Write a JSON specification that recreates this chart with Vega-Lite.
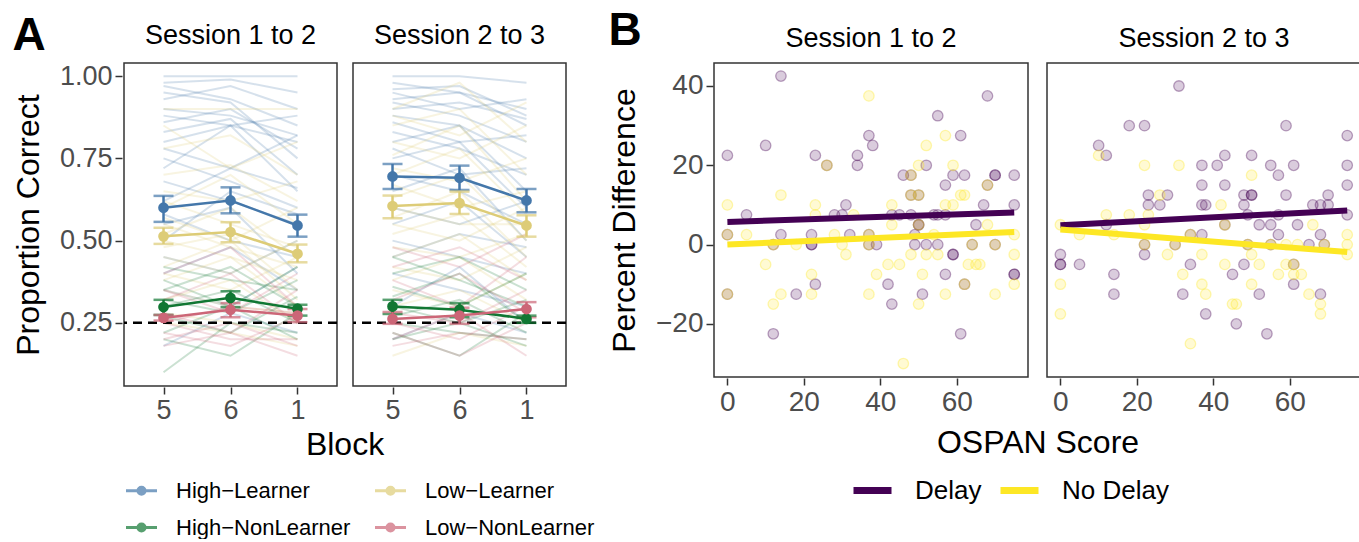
{
"$schema":"https://vega.github.io/schema/vega-lite/v6.json",
"padding":{"left":12,"top":8,"right":2,"bottom":0},
"spacing":13,
"resolve":{"scale":{"color":"independent","stroke":"independent","x":"independent","y":"independent"},"legend":{"color":"independent"}},
"hconcat":[
{
"title":{"text":"A","anchor":"start","fontSize":46,"fontWeight":"bold","offset":-38,"color":"black"},
"data":{"values":[
{"s":"Session 1 to 2","g":"High−Learner","id":"a1","5":1.00,"6":1.00,"1":1.00},
{"s":"Session 1 to 2","g":"High−Learner","id":"a2","5":0.98,"6":0.99,"1":0.95},
{"s":"Session 1 to 2","g":"High−Learner","id":"a3","5":0.97,"6":0.93,"1":0.85},
{"s":"Session 1 to 2","g":"High−Learner","id":"a4","5":0.95,"6":0.92,"1":0.75},
{"s":"Session 1 to 2","g":"High−Learner","id":"a5","5":0.93,"6":0.97,"1":0.90},
{"s":"Session 1 to 2","g":"High−Learner","id":"a6","5":0.90,"6":0.88,"1":0.82},
{"s":"Session 1 to 2","g":"High−Learner","id":"a7","5":0.88,"6":0.85,"1":0.88},
{"s":"Session 1 to 2","g":"High−Learner","id":"a8","5":0.86,"6":0.90,"1":0.78},
{"s":"Session 1 to 2","g":"High−Learner","id":"a9","5":0.83,"6":0.87,"1":0.70},
{"s":"Session 1 to 2","g":"High−Learner","id":"a10","5":0.80,"6":0.85,"1":0.80},
{"s":"Session 1 to 2","g":"High−Learner","id":"a11","5":0.78,"6":0.72,"1":0.82},
{"s":"Session 1 to 2","g":"High−Learner","id":"a12","5":0.75,"6":0.68,"1":0.60},
{"s":"Session 1 to 2","g":"High−Learner","id":"a13","5":0.72,"6":0.85,"1":0.65},
{"s":"Session 1 to 2","g":"High−Learner","id":"a14","5":0.68,"6":0.62,"1":0.55},
{"s":"Session 1 to 2","g":"High−Learner","id":"a15","5":0.62,"6":0.72,"1":0.66},
{"s":"Session 1 to 2","g":"High−Learner","id":"a16","5":0.58,"6":0.50,"1":0.45},
{"s":"Session 1 to 2","g":"High−Learner","id":"a17","5":0.55,"6":0.60,"1":0.40},
{"s":"Session 1 to 2","g":"High−Learner","id":"a18","5":0.50,"6":0.65,"1":0.58},
{"s":"Session 1 to 2","g":"High−Learner","id":"a19","5":0.45,"6":0.40,"1":0.50},
{"s":"Session 1 to 2","g":"High−Learner","id":"a20","5":0.40,"6":0.48,"1":0.35},
{"s":"Session 1 to 2","g":"High−Learner","id":"a21","5":0.35,"6":0.30,"1":0.42},
{"s":"Session 1 to 2","g":"High−Learner","id":"a22","5":0.18,"6":0.28,"1":0.22},
{"s":"Session 1 to 2","g":"Low−Learner","id":"b1","5":0.90,"6":0.90,"1":0.90},
{"s":"Session 1 to 2","g":"Low−Learner","id":"b2","5":0.85,"6":0.72,"1":0.80},
{"s":"Session 1 to 2","g":"Low−Learner","id":"b3","5":0.78,"6":0.82,"1":0.70},
{"s":"Session 1 to 2","g":"Low−Learner","id":"b4","5":0.70,"6":0.73,"1":0.62},
{"s":"Session 1 to 2","g":"Low−Learner","id":"b5","5":0.65,"6":0.62,"1":0.68},
{"s":"Session 1 to 2","g":"Low−Learner","id":"b6","5":0.62,"6":0.55,"1":0.48},
{"s":"Session 1 to 2","g":"Low−Learner","id":"b7","5":0.60,"6":0.70,"1":0.55},
{"s":"Session 1 to 2","g":"Low−Learner","id":"b8","5":0.57,"6":0.50,"1":0.60},
{"s":"Session 1 to 2","g":"Low−Learner","id":"b9","5":0.55,"6":0.48,"1":0.42},
{"s":"Session 1 to 2","g":"Low−Learner","id":"b10","5":0.52,"6":0.60,"1":0.45},
{"s":"Session 1 to 2","g":"Low−Learner","id":"b11","5":0.50,"6":0.45,"1":0.38},
{"s":"Session 1 to 2","g":"Low−Learner","id":"b12","5":0.48,"6":0.52,"1":0.35},
{"s":"Session 1 to 2","g":"Low−Learner","id":"b13","5":0.45,"6":0.40,"1":0.50},
{"s":"Session 1 to 2","g":"Low−Learner","id":"b14","5":0.42,"6":0.50,"1":0.32},
{"s":"Session 1 to 2","g":"Low−Learner","id":"b15","5":0.40,"6":0.35,"1":0.45},
{"s":"Session 1 to 2","g":"Low−Learner","id":"b16","5":0.38,"6":0.45,"1":0.30},
{"s":"Session 1 to 2","g":"Low−Learner","id":"b17","5":0.35,"6":0.30,"1":0.28},
{"s":"Session 1 to 2","g":"Low−Learner","id":"b18","5":0.32,"6":0.38,"1":0.25},
{"s":"Session 1 to 2","g":"Low−Learner","id":"b19","5":0.28,"6":0.25,"1":0.20},
{"s":"Session 1 to 2","g":"Low−Learner","id":"b20","5":0.25,"6":0.22,"1":0.18},
{"s":"Session 1 to 2","g":"High−NonLearner","id":"c1","5":0.42,"6":0.38,"1":0.35},
{"s":"Session 1 to 2","g":"High−NonLearner","id":"c2","5":0.38,"6":0.30,"1":0.42},
{"s":"Session 1 to 2","g":"High−NonLearner","id":"c3","5":0.35,"6":0.42,"1":0.30},
{"s":"Session 1 to 2","g":"High−NonLearner","id":"c4","5":0.32,"6":0.28,"1":0.38},
{"s":"Session 1 to 2","g":"High−NonLearner","id":"c5","5":0.30,"6":0.35,"1":0.25},
{"s":"Session 1 to 2","g":"High−NonLearner","id":"c6","5":0.27,"6":0.22,"1":0.33},
{"s":"Session 1 to 2","g":"High−NonLearner","id":"c7","5":0.22,"6":0.30,"1":0.20},
{"s":"Session 1 to 2","g":"High−NonLearner","id":"c8","5":0.20,"6":0.15,"1":0.28},
{"s":"Session 1 to 2","g":"High−NonLearner","id":"c9","5":0.10,"6":0.25,"1":0.22},
{"s":"Session 1 to 2","g":"Low−NonLearner","id":"d1","5":0.40,"6":0.48,"1":0.30},
{"s":"Session 1 to 2","g":"Low−NonLearner","id":"d2","5":0.35,"6":0.28,"1":0.40},
{"s":"Session 1 to 2","g":"Low−NonLearner","id":"d3","5":0.32,"6":0.40,"1":0.25},
{"s":"Session 1 to 2","g":"Low−NonLearner","id":"d4","5":0.28,"6":0.22,"1":0.35},
{"s":"Session 1 to 2","g":"Low−NonLearner","id":"d5","5":0.25,"6":0.30,"1":0.28},
{"s":"Session 1 to 2","g":"Low−NonLearner","id":"d6","5":0.22,"6":0.18,"1":0.27},
{"s":"Session 1 to 2","g":"Low−NonLearner","id":"d7","5":0.20,"6":0.25,"1":0.18},
{"s":"Session 1 to 2","g":"Low−NonLearner","id":"d8","5":0.18,"6":0.22,"1":0.15},
{"s":"Session 1 to 2","g":"Low−NonLearner","id":"d9","5":0.25,"6":0.20,"1":0.20},
{"s":"Session 2 to 3","g":"High−Learner","id":"a1","5":1.00,"6":1.00,"1":0.98},
{"s":"Session 2 to 3","g":"High−Learner","id":"a2","5":0.98,"6":0.95,"1":0.90},
{"s":"Session 2 to 3","g":"High−Learner","id":"a3","5":0.96,"6":0.97,"1":0.88},
{"s":"Session 2 to 3","g":"High−Learner","id":"a4","5":0.95,"6":0.90,"1":0.93},
{"s":"Session 2 to 3","g":"High−Learner","id":"a5","5":0.93,"6":0.95,"1":0.85},
{"s":"Session 2 to 3","g":"High−Learner","id":"a6","5":0.92,"6":0.88,"1":0.80},
{"s":"Session 2 to 3","g":"High−Learner","id":"a7","5":0.90,"6":0.92,"1":0.87},
{"s":"Session 2 to 3","g":"High−Learner","id":"a8","5":0.88,"6":0.85,"1":0.75},
{"s":"Session 2 to 3","g":"High−Learner","id":"a9","5":0.86,"6":0.80,"1":0.82},
{"s":"Session 2 to 3","g":"High−Learner","id":"a10","5":0.83,"6":0.78,"1":0.70},
{"s":"Session 2 to 3","g":"High−Learner","id":"a11","5":0.80,"6":0.85,"1":0.65},
{"s":"Session 2 to 3","g":"High−Learner","id":"a12","5":0.78,"6":0.70,"1":0.72},
{"s":"Session 2 to 3","g":"High−Learner","id":"a13","5":0.75,"6":0.80,"1":0.60},
{"s":"Session 2 to 3","g":"High−Learner","id":"a14","5":0.70,"6":0.65,"1":0.55},
{"s":"Session 2 to 3","g":"High−Learner","id":"a15","5":0.65,"6":0.72,"1":0.50},
{"s":"Session 2 to 3","g":"High−Learner","id":"a16","5":0.60,"6":0.55,"1":0.62},
{"s":"Session 2 to 3","g":"High−Learner","id":"a17","5":0.55,"6":0.62,"1":0.45},
{"s":"Session 2 to 3","g":"High−Learner","id":"a18","5":0.50,"6":0.45,"1":0.40},
{"s":"Session 2 to 3","g":"High−Learner","id":"a19","5":0.45,"6":0.52,"1":0.48},
{"s":"Session 2 to 3","g":"High−Learner","id":"a20","5":0.40,"6":0.35,"1":0.30},
{"s":"Session 2 to 3","g":"High−Learner","id":"a21","5":0.30,"6":0.42,"1":0.25},
{"s":"Session 2 to 3","g":"High−Learner","id":"a22","5":0.20,"6":0.28,"1":0.22},
{"s":"Session 2 to 3","g":"Low−Learner","id":"b1","5":0.90,"6":0.98,"1":0.80},
{"s":"Session 2 to 3","g":"Low−Learner","id":"b2","5":0.88,"6":0.82,"1":0.92},
{"s":"Session 2 to 3","g":"Low−Learner","id":"b3","5":0.85,"6":0.90,"1":0.70},
{"s":"Session 2 to 3","g":"Low−Learner","id":"b4","5":0.80,"6":0.75,"1":0.85},
{"s":"Session 2 to 3","g":"Low−Learner","id":"b5","5":0.76,"6":0.85,"1":0.62},
{"s":"Session 2 to 3","g":"Low−Learner","id":"b6","5":0.72,"6":0.68,"1":0.75},
{"s":"Session 2 to 3","g":"Low−Learner","id":"b7","5":0.70,"6":0.78,"1":0.58},
{"s":"Session 2 to 3","g":"Low−Learner","id":"b8","5":0.67,"6":0.60,"1":0.65},
{"s":"Session 2 to 3","g":"Low−Learner","id":"b9","5":0.63,"6":0.70,"1":0.50},
{"s":"Session 2 to 3","g":"Low−Learner","id":"b10","5":0.60,"6":0.55,"1":0.55},
{"s":"Session 2 to 3","g":"Low−Learner","id":"b11","5":0.57,"6":0.65,"1":0.45},
{"s":"Session 2 to 3","g":"Low−Learner","id":"b12","5":0.55,"6":0.50,"1":0.60},
{"s":"Session 2 to 3","g":"Low−Learner","id":"b13","5":0.52,"6":0.58,"1":0.42},
{"s":"Session 2 to 3","g":"Low−Learner","id":"b14","5":0.48,"6":0.45,"1":0.52},
{"s":"Session 2 to 3","g":"Low−Learner","id":"b15","5":0.45,"6":0.52,"1":0.38},
{"s":"Session 2 to 3","g":"Low−Learner","id":"b16","5":0.42,"6":0.38,"1":0.48},
{"s":"Session 2 to 3","g":"Low−Learner","id":"b17","5":0.38,"6":0.45,"1":0.32},
{"s":"Session 2 to 3","g":"Low−Learner","id":"b18","5":0.35,"6":0.30,"1":0.40},
{"s":"Session 2 to 3","g":"Low−Learner","id":"b19","5":0.30,"6":0.35,"1":0.25},
{"s":"Session 2 to 3","g":"Low−Learner","id":"b20","5":0.15,"6":0.22,"1":0.18},
{"s":"Session 2 to 3","g":"High−NonLearner","id":"c1","5":0.45,"6":0.38,"1":0.30},
{"s":"Session 2 to 3","g":"High−NonLearner","id":"c2","5":0.40,"6":0.45,"1":0.35},
{"s":"Session 2 to 3","g":"High−NonLearner","id":"c3","5":0.36,"6":0.30,"1":0.40},
{"s":"Session 2 to 3","g":"High−NonLearner","id":"c4","5":0.33,"6":0.40,"1":0.25},
{"s":"Session 2 to 3","g":"High−NonLearner","id":"c5","5":0.30,"6":0.25,"1":0.32},
{"s":"Session 2 to 3","g":"High−NonLearner","id":"c6","5":0.27,"6":0.32,"1":0.22},
{"s":"Session 2 to 3","g":"High−NonLearner","id":"c7","5":0.22,"6":0.15,"1":0.28},
{"s":"Session 2 to 3","g":"High−NonLearner","id":"c8","5":0.20,"6":0.25,"1":0.18},
{"s":"Session 2 to 3","g":"High−NonLearner","id":"c9","5":0.25,"6":0.22,"1":0.20},
{"s":"Session 2 to 3","g":"Low−NonLearner","id":"d1","5":0.48,"6":0.42,"1":0.52},
{"s":"Session 2 to 3","g":"Low−NonLearner","id":"d2","5":0.42,"6":0.48,"1":0.38},
{"s":"Session 2 to 3","g":"Low−NonLearner","id":"d3","5":0.38,"6":0.30,"1":0.45},
{"s":"Session 2 to 3","g":"Low−NonLearner","id":"d4","5":0.32,"6":0.40,"1":0.28},
{"s":"Session 2 to 3","g":"Low−NonLearner","id":"d5","5":0.28,"6":0.25,"1":0.35},
{"s":"Session 2 to 3","g":"Low−NonLearner","id":"d6","5":0.25,"6":0.20,"1":0.30},
{"s":"Session 2 to 3","g":"Low−NonLearner","id":"d7","5":0.22,"6":0.15,"1":0.25},
{"s":"Session 2 to 3","g":"Low−NonLearner","id":"d8","5":0.20,"6":0.28,"1":0.15},
{"s":"Session 2 to 3","g":"Low−NonLearner","id":"d9","5":0.18,"6":0.22,"1":0.20},
{"s":"Session 1 to 2","g":"High−Learner","b":"5","m":0.600,"lo":0.557,"hi":0.636},
{"s":"Session 1 to 2","g":"High−Learner","b":"6","m":0.622,"lo":0.583,"hi":0.662},
{"s":"Session 1 to 2","g":"High−Learner","b":"1","m":0.546,"lo":0.512,"hi":0.579},
{"s":"Session 1 to 2","g":"Low−Learner","b":"5","m":0.513,"lo":0.490,"hi":0.539},
{"s":"Session 1 to 2","g":"Low−Learner","b":"6","m":0.526,"lo":0.495,"hi":0.556},
{"s":"Session 1 to 2","g":"Low−Learner","b":"1","m":0.460,"lo":0.434,"hi":0.488},
{"s":"Session 1 to 2","g":"High−NonLearner","b":"5","m":0.298,"lo":0.274,"hi":0.320},
{"s":"Session 1 to 2","g":"High−NonLearner","b":"6","m":0.326,"lo":0.298,"hi":0.346},
{"s":"Session 1 to 2","g":"High−NonLearner","b":"1","m":0.293,"lo":0.272,"hi":0.305},
{"s":"Session 1 to 2","g":"Low−NonLearner","b":"5","m":0.265,"lo":0.257,"hi":0.274},
{"s":"Session 1 to 2","g":"Low−NonLearner","b":"6","m":0.290,"lo":0.267,"hi":0.310},
{"s":"Session 1 to 2","g":"Low−NonLearner","b":"1","m":0.272,"lo":0.252,"hi":0.292},
{"s":"Session 2 to 3","g":"High−Learner","b":"5","m":0.695,"lo":0.657,"hi":0.733},
{"s":"Session 2 to 3","g":"High−Learner","b":"6","m":0.691,"lo":0.654,"hi":0.728},
{"s":"Session 2 to 3","g":"High−Learner","b":"1","m":0.622,"lo":0.586,"hi":0.657},
{"s":"Session 2 to 3","g":"Low−Learner","b":"5","m":0.605,"lo":0.568,"hi":0.637},
{"s":"Session 2 to 3","g":"Low−Learner","b":"6","m":0.614,"lo":0.581,"hi":0.649},
{"s":"Session 2 to 3","g":"Low−Learner","b":"1","m":0.546,"lo":0.512,"hi":0.577},
{"s":"Session 2 to 3","g":"High−NonLearner","b":"5","m":0.300,"lo":0.277,"hi":0.320},
{"s":"Session 2 to 3","g":"High−NonLearner","b":"6","m":0.290,"lo":0.267,"hi":0.310},
{"s":"Session 2 to 3","g":"High−NonLearner","b":"1","m":0.262,"lo":0.250,"hi":0.272},
{"s":"Session 2 to 3","g":"Low−NonLearner","b":"5","m":0.262,"lo":0.247,"hi":0.283},
{"s":"Session 2 to 3","g":"Low−NonLearner","b":"6","m":0.272,"lo":0.247,"hi":0.296},
{"s":"Session 2 to 3","g":"Low−NonLearner","b":"1","m":0.292,"lo":0.267,"hi":0.313}
]},
"facet":{"column":{"field":"s","type":"nominal","header":{"title":"Block","titleOrient":"bottom","labelOrient":"top","titleFontSize":32,"titleFontWeight":"normal","titleColor":"black","titlePadding":-3,"labelFontSize":27,"labelColor":"black","labelPadding":12}}},
"spacing":12,
"spec":{
"width":213,"height":323,
"layer":[
{"transform":[{"filter":"isValid(datum.id)"},{"fold":["5","6","1"],"as":["b","v"]}],
 "mark":{"type":"line","strokeWidth":2,"strokeOpacity":0.22},
 "encoding":{
  "x":{"field":"b","type":"ordinal","scale":{"type":"point","domain":["5","6","1"],"padding":0.59},"axis":{"title":null,"labelAngle":0}},
  "y":{"field":"v","type":"quantitative","title":"Proportion Correct","scale":{"domain":[0.058,1.04],"nice":false,"zero":false},"axis":{"values":[0.25,0.5,0.75,1],"format":".2f","title":"Proportion Correct","titlePadding":14}},
  "color":{"field":"g","type":"nominal","scale":{"domain":["High−Learner","Low−Learner","High−NonLearner","Low−NonLearner"],"range":["#4477AA","#DDCC77","#117733","#CC6677"]},
    "legend":{"title":null,"orient":"bottom","direction":"horizontal","columns":2,"labelFontSize":22,"labelColor":"black","labelLimit":400,"symbolType":"M-1,0L1,0M-0.22,0A0.22,0.22,0,1,0,0.22,0A0.22,0.22,0,1,0,-0.22,0M-0.08,0A0.08,0.08,0,1,0,0.08,0A0.08,0.08,0,1,0,-0.08,0","symbolSize":961,"symbolStrokeWidth":3.2,"symbolOpacity":1,"columnPadding":17,"rowPadding":8,"labelOffset":17,"offset":12}},
  "detail":{"field":"id","type":"nominal"}}},
{"transform":[{"filter":"isValid(datum.m)"},{"aggregate":[{"op":"count","as":"n"}],"groupby":["s"]}],
 "mark":{"type":"rule","strokeDash":[9,6],"strokeWidth":2.5,"color":"black"},
 "encoding":{"y":{"datum":0.25,"type":"quantitative","title":"Proportion Correct"}}},
{"transform":[{"filter":"isValid(datum.m)"}],
 "mark":{"type":"errorbar","ticks":{"size":20,"thickness":2.5},"thickness":2.5},
 "encoding":{"x":{"field":"b","type":"ordinal"},"y":{"field":"lo","type":"quantitative","title":"Proportion Correct"},"y2":{"field":"hi"},"color":{"field":"g","type":"nominal"}}},
{"transform":[{"filter":"isValid(datum.m)"}],
 "mark":{"type":"line","strokeWidth":2.5},
 "encoding":{"x":{"field":"b","type":"ordinal"},"y":{"field":"m","type":"quantitative","title":"Proportion Correct"},"color":{"field":"g","type":"nominal"}}},
{"transform":[{"filter":"isValid(datum.m)"}],
 "mark":{"type":"point","filled":true,"size":115,"opacity":1},
 "encoding":{"x":{"field":"b","type":"ordinal"},"y":{"field":"m","type":"quantitative","title":"Proportion Correct"},"color":{"field":"g","type":"nominal"}}}
]}
},
{
"title":{"text":"B","anchor":"start","fontSize":46,"fontWeight":"bold","offset":-30,"color":"black"},
"data":{"values":[
{"s":"Session 1 to 2","c":"Delay","x":14,"y":42.5},{"s":"Session 1 to 2","c":"Delay","x":37,"y":27.5},{"s":"Session 1 to 2","c":"Delay","x":38,"y":25},{"s":"Session 1 to 2","c":"Delay","x":0,"y":22.5},{"s":"Session 1 to 2","c":"Delay","x":10,"y":25},{"s":"Session 1 to 2","c":"Delay","x":23,"y":22.5},{"s":"Session 1 to 2","c":"Delay","x":26,"y":20},{"s":"Session 1 to 2","c":"Delay","x":34,"y":22.5},{"s":"Session 1 to 2","c":"Delay","x":34,"y":20},{"s":"Session 1 to 2","c":"Delay","x":5,"y":7.5},{"s":"Session 1 to 2","c":"Delay","x":31,"y":10},{"s":"Session 1 to 2","c":"Delay","x":28,"y":7.5},{"s":"Session 1 to 2","c":"Delay","x":30,"y":7.5},{"s":"Session 1 to 2","c":"Delay","x":0,"y":2.5},{"s":"Session 1 to 2","c":"Delay","x":12,"y":0},{"s":"Session 1 to 2","c":"Delay","x":14,"y":2.5},{"s":"Session 1 to 2","c":"Delay","x":22,"y":2.5},{"s":"Session 1 to 2","c":"Delay","x":22,"y":0},{"s":"Session 1 to 2","c":"Delay","x":22,"y":0},{"s":"Session 1 to 2","c":"Delay","x":32,"y":2.5},{"s":"Session 1 to 2","c":"Delay","x":37,"y":2.5},{"s":"Session 1 to 2","c":"Delay","x":37,"y":0},{"s":"Session 1 to 2","c":"Delay","x":23,"y":-10},{"s":"Session 1 to 2","c":"Delay","x":0,"y":-12.5},{"s":"Session 1 to 2","c":"Delay","x":18,"y":-12.5},{"s":"Session 1 to 2","c":"Delay","x":12,"y":-22.5},
{"s":"Session 1 to 2","c":"Delay","x":68,"y":37.5},{"s":"Session 1 to 2","c":"Delay","x":55,"y":32.5},{"s":"Session 1 to 2","c":"Delay","x":61,"y":27.5},{"s":"Session 1 to 2","c":"Delay","x":52,"y":20},{"s":"Session 1 to 2","c":"Delay","x":46,"y":17.5},{"s":"Session 1 to 2","c":"Delay","x":48,"y":17.5},{"s":"Session 1 to 2","c":"Delay","x":59,"y":17.5},{"s":"Session 1 to 2","c":"Delay","x":62,"y":17.5},{"s":"Session 1 to 2","c":"Delay","x":57,"y":15},{"s":"Session 1 to 2","c":"Delay","x":70,"y":17.5},{"s":"Session 1 to 2","c":"Delay","x":70,"y":17.5},{"s":"Session 1 to 2","c":"Delay","x":68,"y":15},{"s":"Session 1 to 2","c":"Delay","x":75,"y":17.5},{"s":"Session 1 to 2","c":"Delay","x":48,"y":12.5},{"s":"Session 1 to 2","c":"Delay","x":50,"y":12.5},{"s":"Session 1 to 2","c":"Delay","x":67,"y":10},{"s":"Session 1 to 2","c":"Delay","x":75,"y":10},{"s":"Session 1 to 2","c":"Delay","x":43,"y":7.5},{"s":"Session 1 to 2","c":"Delay","x":45,"y":7.5},{"s":"Session 1 to 2","c":"Delay","x":48,"y":7.5},{"s":"Session 1 to 2","c":"Delay","x":54,"y":7.5},{"s":"Session 1 to 2","c":"Delay","x":55,"y":7.5},{"s":"Session 1 to 2","c":"Delay","x":57,"y":7.5},{"s":"Session 1 to 2","c":"Delay","x":50,"y":5},{"s":"Session 1 to 2","c":"Delay","x":50,"y":5},{"s":"Session 1 to 2","c":"Delay","x":65,"y":5},{"s":"Session 1 to 2","c":"Delay","x":49,"y":2.5},{"s":"Session 1 to 2","c":"Delay","x":39,"y":0},{"s":"Session 1 to 2","c":"Delay","x":49,"y":0},{"s":"Session 1 to 2","c":"Delay","x":52,"y":0},{"s":"Session 1 to 2","c":"Delay","x":55,"y":0},{"s":"Session 1 to 2","c":"Delay","x":64,"y":0},{"s":"Session 1 to 2","c":"Delay","x":70,"y":0},{"s":"Session 1 to 2","c":"Delay","x":59,"y":-2.5},{"s":"Session 1 to 2","c":"Delay","x":59,"y":-2.5},{"s":"Session 1 to 2","c":"Delay","x":57,"y":-7.5},{"s":"Session 1 to 2","c":"Delay","x":75,"y":-7.5},{"s":"Session 1 to 2","c":"Delay","x":75,"y":-7.5},{"s":"Session 1 to 2","c":"Delay","x":42,"y":-10},{"s":"Session 1 to 2","c":"Delay","x":62,"y":-10},{"s":"Session 1 to 2","c":"Delay","x":51,"y":-12.5},{"s":"Session 1 to 2","c":"Delay","x":43,"y":-15},{"s":"Session 1 to 2","c":"Delay","x":61,"y":-22.5},
{"s":"Session 1 to 2","c":"No Delay","x":37,"y":37.5},{"s":"Session 1 to 2","c":"No Delay","x":26,"y":20},{"s":"Session 1 to 2","c":"No Delay","x":0,"y":10},{"s":"Session 1 to 2","c":"No Delay","x":14,"y":12.5},{"s":"Session 1 to 2","c":"No Delay","x":23,"y":10},{"s":"Session 1 to 2","c":"No Delay","x":23,"y":7.5},{"s":"Session 1 to 2","c":"No Delay","x":33,"y":7.5},{"s":"Session 1 to 2","c":"No Delay","x":0,"y":2.5},{"s":"Session 1 to 2","c":"No Delay","x":5,"y":2.5},{"s":"Session 1 to 2","c":"No Delay","x":12,"y":0},{"s":"Session 1 to 2","c":"No Delay","x":18,"y":0},{"s":"Session 1 to 2","c":"No Delay","x":28,"y":2.5},{"s":"Session 1 to 2","c":"No Delay","x":30,"y":0},{"s":"Session 1 to 2","c":"No Delay","x":31,"y":-2.5},{"s":"Session 1 to 2","c":"No Delay","x":37,"y":2.5},{"s":"Session 1 to 2","c":"No Delay","x":37,"y":0},{"s":"Session 1 to 2","c":"No Delay","x":10,"y":-5},{"s":"Session 1 to 2","c":"No Delay","x":22,"y":-7.5},{"s":"Session 1 to 2","c":"No Delay","x":39,"y":-7.5},{"s":"Session 1 to 2","c":"No Delay","x":0,"y":-12.5},{"s":"Session 1 to 2","c":"No Delay","x":14,"y":-12.5},{"s":"Session 1 to 2","c":"No Delay","x":22,"y":-12.5},{"s":"Session 1 to 2","c":"No Delay","x":12,"y":-15},{"s":"Session 1 to 2","c":"No Delay","x":37,"y":-12.5},
{"s":"Session 1 to 2","c":"No Delay","x":57,"y":27.5},{"s":"Session 1 to 2","c":"No Delay","x":52,"y":25},{"s":"Session 1 to 2","c":"No Delay","x":50,"y":20},{"s":"Session 1 to 2","c":"No Delay","x":48,"y":17.5},{"s":"Session 1 to 2","c":"No Delay","x":59,"y":20},{"s":"Session 1 to 2","c":"No Delay","x":68,"y":15},{"s":"Session 1 to 2","c":"No Delay","x":48,"y":12.5},{"s":"Session 1 to 2","c":"No Delay","x":50,"y":12.5},{"s":"Session 1 to 2","c":"No Delay","x":61,"y":12.5},{"s":"Session 1 to 2","c":"No Delay","x":62,"y":12.5},{"s":"Session 1 to 2","c":"No Delay","x":57,"y":10},{"s":"Session 1 to 2","c":"No Delay","x":59,"y":10},{"s":"Session 1 to 2","c":"No Delay","x":43,"y":10},{"s":"Session 1 to 2","c":"No Delay","x":43,"y":5},{"s":"Session 1 to 2","c":"No Delay","x":50,"y":5},{"s":"Session 1 to 2","c":"No Delay","x":68,"y":5},{"s":"Session 1 to 2","c":"No Delay","x":54,"y":2.5},{"s":"Session 1 to 2","c":"No Delay","x":75,"y":2.5},{"s":"Session 1 to 2","c":"No Delay","x":64,"y":0},{"s":"Session 1 to 2","c":"No Delay","x":70,"y":0},{"s":"Session 1 to 2","c":"No Delay","x":48,"y":-2.5},{"s":"Session 1 to 2","c":"No Delay","x":52,"y":-2.5},{"s":"Session 1 to 2","c":"No Delay","x":55,"y":-2.5},{"s":"Session 1 to 2","c":"No Delay","x":63,"y":-5},{"s":"Session 1 to 2","c":"No Delay","x":65,"y":-5},{"s":"Session 1 to 2","c":"No Delay","x":66,"y":-5},{"s":"Session 1 to 2","c":"No Delay","x":75,"y":-2.5},{"s":"Session 1 to 2","c":"No Delay","x":42,"y":-5},{"s":"Session 1 to 2","c":"No Delay","x":45,"y":-5},{"s":"Session 1 to 2","c":"No Delay","x":51,"y":-7.5},{"s":"Session 1 to 2","c":"No Delay","x":75,"y":-10},{"s":"Session 1 to 2","c":"No Delay","x":62,"y":-10},{"s":"Session 1 to 2","c":"No Delay","x":57,"y":-12.5},{"s":"Session 1 to 2","c":"No Delay","x":70,"y":-12.5},{"s":"Session 1 to 2","c":"No Delay","x":50,"y":-15},{"s":"Session 1 to 2","c":"No Delay","x":46,"y":-30},
{"s":"Session 2 to 3","c":"Delay","x":31,"y":40},{"s":"Session 2 to 3","c":"Delay","x":18,"y":30},{"s":"Session 2 to 3","c":"Delay","x":22,"y":30},{"s":"Session 2 to 3","c":"Delay","x":10,"y":25},{"s":"Session 2 to 3","c":"Delay","x":12,"y":22.5},{"s":"Session 2 to 3","c":"Delay","x":37,"y":20},{"s":"Session 2 to 3","c":"Delay","x":37,"y":15},{"s":"Session 2 to 3","c":"Delay","x":23,"y":12.5},{"s":"Session 2 to 3","c":"Delay","x":28,"y":12.5},{"s":"Session 2 to 3","c":"Delay","x":23,"y":10},{"s":"Session 2 to 3","c":"Delay","x":26,"y":10},{"s":"Session 2 to 3","c":"Delay","x":37,"y":10},{"s":"Session 2 to 3","c":"Delay","x":38,"y":10},{"s":"Session 2 to 3","c":"Delay","x":12,"y":5},{"s":"Session 2 to 3","c":"Delay","x":34,"y":2.5},{"s":"Session 2 to 3","c":"Delay","x":37,"y":2.5},{"s":"Session 2 to 3","c":"Delay","x":22,"y":0},{"s":"Session 2 to 3","c":"Delay","x":30,"y":0},{"s":"Session 2 to 3","c":"Delay","x":22,"y":-2.5},{"s":"Session 2 to 3","c":"Delay","x":0,"y":-2.5},{"s":"Session 2 to 3","c":"Delay","x":0,"y":-5},{"s":"Session 2 to 3","c":"Delay","x":0,"y":-5},{"s":"Session 2 to 3","c":"Delay","x":5,"y":-5},{"s":"Session 2 to 3","c":"Delay","x":34,"y":-5},{"s":"Session 2 to 3","c":"Delay","x":14,"y":-7.5},{"s":"Session 2 to 3","c":"Delay","x":14,"y":-12.5},{"s":"Session 2 to 3","c":"Delay","x":32,"y":-12.5},{"s":"Session 2 to 3","c":"Delay","x":38,"y":-17.5},
{"s":"Session 2 to 3","c":"Delay","x":59,"y":30},{"s":"Session 2 to 3","c":"Delay","x":75,"y":27.5},{"s":"Session 2 to 3","c":"Delay","x":43,"y":22.5},{"s":"Session 2 to 3","c":"Delay","x":50,"y":22.5},{"s":"Session 2 to 3","c":"Delay","x":41,"y":20},{"s":"Session 2 to 3","c":"Delay","x":55,"y":20},{"s":"Session 2 to 3","c":"Delay","x":61,"y":20},{"s":"Session 2 to 3","c":"Delay","x":75,"y":20},{"s":"Session 2 to 3","c":"Delay","x":57,"y":17.5},{"s":"Session 2 to 3","c":"Delay","x":43,"y":15},{"s":"Session 2 to 3","c":"Delay","x":75,"y":15},{"s":"Session 2 to 3","c":"Delay","x":48,"y":12.5},{"s":"Session 2 to 3","c":"Delay","x":50,"y":12.5},{"s":"Session 2 to 3","c":"Delay","x":50,"y":12.5},{"s":"Session 2 to 3","c":"Delay","x":59,"y":12.5},{"s":"Session 2 to 3","c":"Delay","x":70,"y":12.5},{"s":"Session 2 to 3","c":"Delay","x":48,"y":10},{"s":"Session 2 to 3","c":"Delay","x":66,"y":10},{"s":"Session 2 to 3","c":"Delay","x":68,"y":10},{"s":"Session 2 to 3","c":"Delay","x":70,"y":10},{"s":"Session 2 to 3","c":"Delay","x":75,"y":7.5},{"s":"Session 2 to 3","c":"Delay","x":49,"y":7.5},{"s":"Session 2 to 3","c":"Delay","x":57,"y":7.5},{"s":"Session 2 to 3","c":"Delay","x":43,"y":5},{"s":"Session 2 to 3","c":"Delay","x":52,"y":5},{"s":"Session 2 to 3","c":"Delay","x":55,"y":5},{"s":"Session 2 to 3","c":"Delay","x":62,"y":5},{"s":"Session 2 to 3","c":"Delay","x":57,"y":2.5},{"s":"Session 2 to 3","c":"Delay","x":68,"y":2.5},{"s":"Session 2 to 3","c":"Delay","x":49,"y":0},{"s":"Session 2 to 3","c":"Delay","x":55,"y":0},{"s":"Session 2 to 3","c":"Delay","x":65,"y":0},{"s":"Session 2 to 3","c":"Delay","x":69,"y":0},{"s":"Session 2 to 3","c":"Delay","x":48,"y":-5},{"s":"Session 2 to 3","c":"Delay","x":61,"y":-5},{"s":"Session 2 to 3","c":"Delay","x":45,"y":-7.5},{"s":"Session 2 to 3","c":"Delay","x":61,"y":-10},{"s":"Session 2 to 3","c":"Delay","x":52,"y":-12.5},{"s":"Session 2 to 3","c":"Delay","x":68,"y":-12.5},{"s":"Session 2 to 3","c":"Delay","x":46,"y":-20},{"s":"Session 2 to 3","c":"Delay","x":54,"y":-22.5},
{"s":"Session 2 to 3","c":"No Delay","x":10,"y":22.5},{"s":"Session 2 to 3","c":"No Delay","x":22,"y":20},{"s":"Session 2 to 3","c":"No Delay","x":31,"y":20},{"s":"Session 2 to 3","c":"No Delay","x":26,"y":12.5},{"s":"Session 2 to 3","c":"No Delay","x":0,"y":5},{"s":"Session 2 to 3","c":"No Delay","x":12,"y":7.5},{"s":"Session 2 to 3","c":"No Delay","x":18,"y":7.5},{"s":"Session 2 to 3","c":"No Delay","x":23,"y":7.5},{"s":"Session 2 to 3","c":"No Delay","x":5,"y":2.5},{"s":"Session 2 to 3","c":"No Delay","x":14,"y":2.5},{"s":"Session 2 to 3","c":"No Delay","x":22,"y":5},{"s":"Session 2 to 3","c":"No Delay","x":34,"y":2.5},{"s":"Session 2 to 3","c":"No Delay","x":22,"y":0},{"s":"Session 2 to 3","c":"No Delay","x":30,"y":0},{"s":"Session 2 to 3","c":"No Delay","x":28,"y":-2.5},{"s":"Session 2 to 3","c":"No Delay","x":32,"y":-7.5},{"s":"Session 2 to 3","c":"No Delay","x":37,"y":-10},{"s":"Session 2 to 3","c":"No Delay","x":0,"y":-10},{"s":"Session 2 to 3","c":"No Delay","x":0,"y":-17.5},{"s":"Session 2 to 3","c":"No Delay","x":34,"y":-25},
{"s":"Session 2 to 3","c":"No Delay","x":50,"y":17.5},{"s":"Session 2 to 3","c":"No Delay","x":42,"y":10},{"s":"Session 2 to 3","c":"No Delay","x":43,"y":5},{"s":"Session 2 to 3","c":"No Delay","x":66,"y":5},{"s":"Session 2 to 3","c":"No Delay","x":75,"y":2.5},{"s":"Session 2 to 3","c":"No Delay","x":49,"y":0},{"s":"Session 2 to 3","c":"No Delay","x":55,"y":0},{"s":"Session 2 to 3","c":"No Delay","x":59,"y":0},{"s":"Session 2 to 3","c":"No Delay","x":62,"y":0},{"s":"Session 2 to 3","c":"No Delay","x":69,"y":0},{"s":"Session 2 to 3","c":"No Delay","x":75,"y":0},{"s":"Session 2 to 3","c":"No Delay","x":75,"y":-2.5},{"s":"Session 2 to 3","c":"No Delay","x":37,"y":-2.5},{"s":"Session 2 to 3","c":"No Delay","x":50,"y":-2.5},{"s":"Session 2 to 3","c":"No Delay","x":43,"y":-5},{"s":"Session 2 to 3","c":"No Delay","x":52,"y":-5},{"s":"Session 2 to 3","c":"No Delay","x":59,"y":-5},{"s":"Session 2 to 3","c":"No Delay","x":61,"y":-5},{"s":"Session 2 to 3","c":"No Delay","x":57,"y":-7.5},{"s":"Session 2 to 3","c":"No Delay","x":61,"y":-7.5},{"s":"Session 2 to 3","c":"No Delay","x":63,"y":-7.5},{"s":"Session 2 to 3","c":"No Delay","x":50,"y":-10},{"s":"Session 2 to 3","c":"No Delay","x":38,"y":-12.5},{"s":"Session 2 to 3","c":"No Delay","x":65,"y":-12.5},{"s":"Session 2 to 3","c":"No Delay","x":45,"y":-15},{"s":"Session 2 to 3","c":"No Delay","x":46,"y":-15},{"s":"Session 2 to 3","c":"No Delay","x":68,"y":-15},{"s":"Session 2 to 3","c":"No Delay","x":68,"y":-17.5},
{"k":"r","s":"Session 1 to 2","c":"Delay","x":0,"y":5.7},{"k":"r","s":"Session 1 to 2","c":"Delay","x":75,"y":8.1},
{"k":"r","s":"Session 1 to 2","c":"No Delay","x":0,"y":0},{"k":"r","s":"Session 1 to 2","c":"No Delay","x":75,"y":3.2},
{"k":"r","s":"Session 2 to 3","c":"Delay","x":0,"y":4.9},{"k":"r","s":"Session 2 to 3","c":"Delay","x":75,"y":8.6},
{"k":"r","s":"Session 2 to 3","c":"No Delay","x":0,"y":3.8},{"k":"r","s":"Session 2 to 3","c":"No Delay","x":75,"y":-1.9}
]},
"facet":{"column":{"field":"s","type":"nominal","header":{"title":"OSPAN Score","titleOrient":"bottom","labelOrient":"top","titleFontSize":32,"titleFontWeight":"normal","titleColor":"black","titlePadding":2,"labelFontSize":27,"labelColor":"black","labelPadding":9}}},
"spacing":17,
"spec":{
"width":314,"height":314,
"layer":[
{"transform":[{"filter":"datum.k !== 'r'"}],
 "mark":{"type":"point","filled":true,"size":110,"opacity":1,"fillOpacity":0.2,"strokeOpacity":0.35,"strokeWidth":1.3},
 "encoding":{
  "x":{"field":"x","type":"quantitative","scale":{"domain":[-3.5,78.6],"nice":false,"zero":false},"axis":{"values":[0,20,40,60],"title":null,"labelFontSize":28}},
  "y":{"field":"y","type":"quantitative","scale":{"domain":[-33.4,45.8],"nice":false,"zero":false},"axis":{"values":[-20,0,20,40],"title":"Percent Difference","labelFontSize":28,"titlePadding":14}},
  "color":{"field":"c","type":"nominal","scale":{"domain":["Delay","No Delay"],"range":["#440154","#FDE725"]},
    "legend":{"title":null,"orient":"none","legendX":136,"legendY":405,"direction":"horizontal","gridAlign":"none","labelFontSize":26,"labelColor":"black","symbolType":"stroke","symbolSize":1444,"symbolStrokeWidth":7,"symbolOpacity":1,"labelOffset":20,"columnPadding":4}},
  "stroke":{"field":"c","type":"nominal","scale":{"domain":["Delay","No Delay"],"range":["#440154","#FDE725"]},"legend":null}}},
{"transform":[{"filter":"datum.k === 'r'"}],
 "mark":{"type":"line","strokeWidth":6},
 "encoding":{"x":{"field":"x","type":"quantitative"},"y":{"field":"y","type":"quantitative"},
  "color":{"field":"c","type":"nominal"}}}
]}
}
],
"config":{
 "font":"Liberation Sans",
 "view":{"stroke":"#333333","strokeWidth":1.5},
 "axis":{"grid":false,"domain":false,"tickColor":"#333333","tickWidth":1.5,"tickSize":7,"labelColor":"#4d4d4d","labelFontSize":27,"labelPadding":3,"titleFontSize":32,"titleFontWeight":"normal","titleColor":"black"},
 "header":{"labelFontSize":27,"labelColor":"black"},
 "title":{"font":"Liberation Sans"}
}
}
